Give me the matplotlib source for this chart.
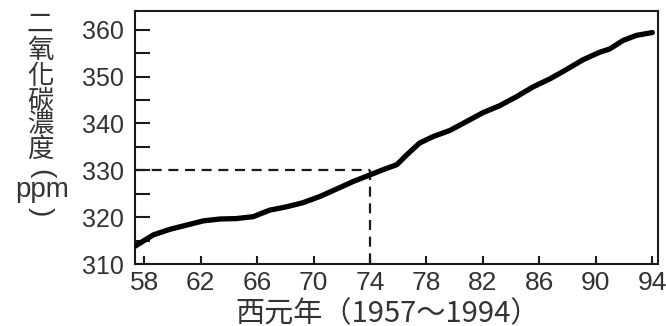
import matplotlib
matplotlib.use("Agg")
import matplotlib.pyplot as plt
from matplotlib.ticker import MultipleLocator

years = [57.35, 58.64, 59.82, 61.0, 62.18, 63.36, 64.54, 65.72, 66.9, 68.08,
         69.26, 70.44, 71.63, 72.8, 73.98, 74.9, 75.9, 76.6, 77.5, 78.47,
         79.65, 80.83, 82.0, 83.19, 84.37, 85.55, 86.73, 87.91, 89.09, 90.27,
         90.98, 91.92, 92.87, 94.0]
co2 = [313.8, 316.2, 317.4, 318.3, 319.2, 319.6, 319.7, 320.1, 321.5, 322.2,
       323.1, 324.4, 326.0, 327.6, 329.0, 330.1, 331.2, 333.3, 335.8, 337.2,
       338.5, 340.4, 342.3, 343.8, 345.7, 347.8, 349.5, 351.5, 353.6, 355.2,
       355.9, 357.7, 358.8, 359.4]
xticks = [58, 62, 66, 70, 74, 78, 82, 86, 90, 94]
yticks = [310, 320, 330, 340, 350, 360]
ref_year = 74
ref_value = 330
ylabel_chars = ["二", "氧", "化", "碳", "濃", "度", "(", "ppm", ")"]
xlabel = "西元年（1957～1994）"

W, H = 666, 326
fig = plt.figure(figsize=(W / 100, H / 100), dpi=100)
L, R, T, B = 135, 658, 11, 264
ax = fig.add_axes([L / W, (H - B) / H, (R - L) / W, (B - T) / H])

xmin, xmax = 57.35, 94.4
ymin, ymax = 310, 364
ax.set_xlim(xmin, xmax)
ax.set_ylim(ymin, ymax)

ink = "#1a1a1a"
ax.plot(years, co2, color="black", lw=3.8, solid_capstyle="round",
        solid_joinstyle="round", zorder=3)
ax.plot([xmin, ref_year], [ref_value, ref_value], color=ink, lw=1.6,
        linestyle=(0, (4.5, 3)), zorder=2)
ax.plot([ref_year, ref_year], [ref_value, ymin], color=ink, lw=1.6,
        linestyle=(0, (4.5, 3)), zorder=2)

for s in ax.spines.values():
    s.set_linewidth(1.5)
    s.set_color(ink)

ax.set_xticks(xticks)
ax.set_xticklabels([str(v) for v in xticks])
ax.set_yticks(yticks)
ax.set_yticklabels([str(v) for v in yticks])
ax.yaxis.set_minor_locator(MultipleLocator(5))

num_font = ["Liberation Sans Narrow", "Liberation Sans", "DejaVu Sans"]
ax.tick_params(axis="y", which="both", direction="in", length=11, width=1.5,
               pad=8, colors=ink, labelsize=18)
ax.tick_params(axis="x", which="both", direction="in", length=6, width=1.5,
               pad=5, colors=ink, labelsize=19)
for lab in ax.get_yticklabels():
    lab.set_family(["Liberation Sans", "DejaVu Sans"])
    lab.set_color("#333333")
for lab in ax.get_xticklabels():
    lab.set_family(num_font)
    lab.set_color("#333333")

cjk = ["Noto Sans CJK TC", "DejaVu Sans"]
lat = ["Liberation Sans", "DejaVu Sans"]
ys = [24, 50, 77, 101, 124, 149, 174, 190, 212]
for ch, yp in zip(ylabel_chars, ys):
    if ch == "ppm":
        fig.text(42 / W, 1 - yp / H, ch, ha="center", va="center",
                 fontsize=20, family=lat, color="#333333")
    elif ch in "()":
        fig.text(41 / W, 1 - yp / H, ch, ha="center", va="center",
                 fontsize=20, family=lat, color="#333333", rotation=-90,
                 rotation_mode="anchor")
    else:
        fig.text(40 / W, 1 - yp / H, ch, ha="center", va="center",
                 fontsize=19, family=cjk, color="#333333")

fig.text(388 / W, 1 - 314 / H, xlabel, ha="center", va="center",
         fontsize=21, family=cjk, color="#333333")

fig.savefig("out.png", dpi=100)
